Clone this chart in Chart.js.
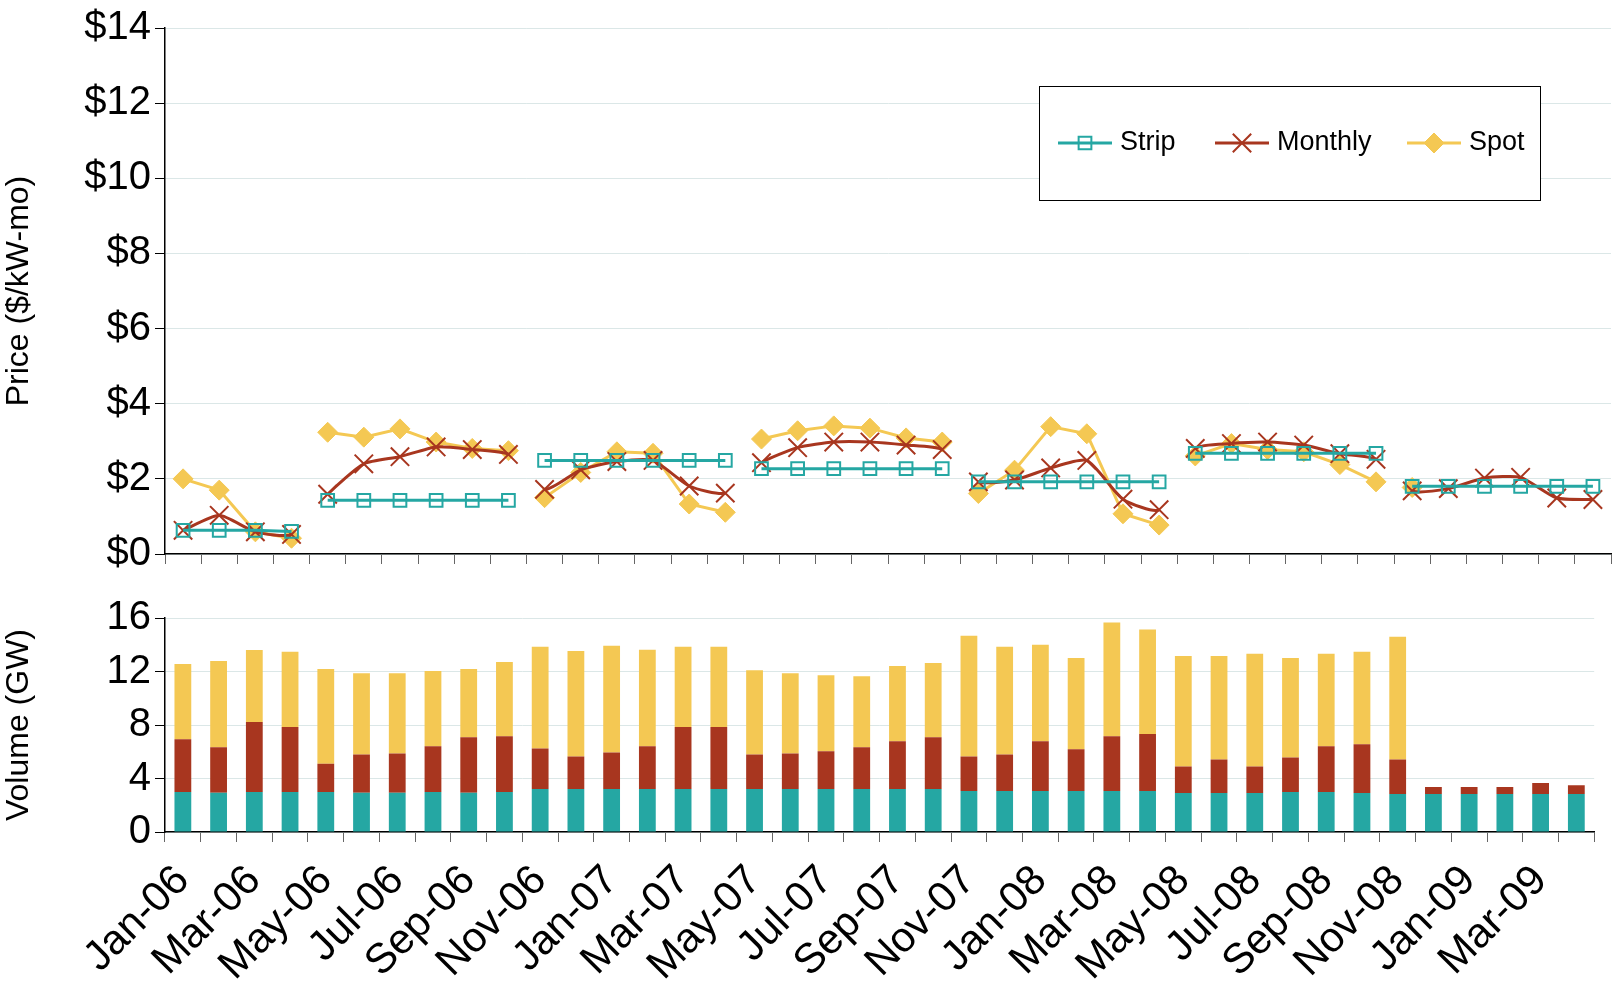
<!DOCTYPE html>
<html>
<head>
<meta charset="utf-8">
<script src="https://cdn.jsdelivr.net/npm/chart.js@4.4.1/dist/chart.umd.min.js"></script>
<style>
  body { margin: 0; background: #fff; overflow: hidden; }
  #wrap { position: relative; width: 1614px; height: 997px; overflow: hidden; }
  .box { position: absolute; left: 0; width: 1626px; }
</style>
</head>
<body>
<div id="wrap">
  <div class="box" style="top:0;height:582px"><canvas id="price"></canvas></div>
  <div class="box" style="top:590px;height:407px"><canvas id="volume"></canvas></div>
</div>
<script>
const months = [
  "Jan-06","Feb-06","Mar-06","Apr-06","May-06","Jun-06","Jul-06","Aug-06","Sep-06","Oct-06","Nov-06","Dec-06",
  "Jan-07","Feb-07","Mar-07","Apr-07","May-07","Jun-07","Jul-07","Aug-07","Sep-07","Oct-07","Nov-07","Dec-07",
  "Jan-08","Feb-08","Mar-08","Apr-08","May-08","Jun-08","Jul-08","Aug-08","Sep-08","Oct-08","Nov-08","Dec-08",
  "Jan-09","Feb-09","Mar-09","Apr-09"
];

// price lines ($/kW-mo); auction periods break the lines
const stripPrice = [0.63,0.63,0.63,0.60, 1.43,1.43,1.43,1.43,1.43,1.43, 2.49,2.49,2.49,2.49,2.49,2.49,
  2.27,2.27,2.27,2.27,2.27,2.27, 1.92,1.92,1.92,1.92,1.92,1.92, 2.68,2.68,2.68,2.68,2.68,2.68, 1.80,1.80,1.80,1.80,1.80,1.80];
const monthlyPrice = [0.63,1.03,0.59,0.52, 1.59,2.40,2.59,2.85,2.78,2.65, 1.72,2.24,2.46,2.49,1.81,1.62,
  2.43,2.83,2.98,2.98,2.90,2.78, 1.92,1.97,2.29,2.49,1.46,1.18, 2.81,2.94,2.98,2.90,2.67,2.52, 1.68,1.74,2.02,2.04,1.49,1.45];
const spotPrice = [2.00,1.70,0.59,0.42, 3.24,3.11,3.33,2.98,2.81,2.75, 1.50,2.17,2.72,2.68,1.33,1.11,
  3.06,3.28,3.41,3.35,3.09,2.98, 1.61,2.23,3.39,3.20,1.07,0.77, 2.61,2.94,2.78,2.72,2.38,1.92, 1.77,null,null,null,null,null];
const periodStarts = [4,10,16,22,28,34];

// volumes (GW)
const stripVol = [2.99,2.94,2.99,2.99,2.99,2.94,2.94,2.99,2.94,2.99, 3.22,3.22,3.22,3.22,3.22,3.22,3.22,3.22,3.22,3.22,
  3.22,3.22,3.06,3.06,3.06,3.06,3.06,3.06,2.91,2.91, 2.91,2.99,2.99,2.91,2.84,2.84,2.84,2.84,2.84,2.84];
const monthlyVol = [3.95,3.39,5.24,4.86,2.12,2.86,2.93,3.42,4.15,4.17, 3.03,2.43,2.73,3.19,4.63,4.63,2.58,2.65,2.81,3.11,
  3.56,3.87,2.59,2.74,3.72,3.12,4.10,4.26,1.98,2.51, 1.98,2.58,3.42,3.65,2.58,0.53,0.53,0.53,0.83,0.66];
const spotVol = [5.62,6.45,5.37,5.62,7.07,6.07,6.00,5.62,5.09,5.55, 7.60,7.89,7.97,7.21,6.00,6.00,6.30,6.00,5.69,5.32,
  5.63,5.54,9.03,8.05,7.22,6.83,8.51,7.82,8.27,7.74, 8.43,7.44,6.91,6.91,9.18,0,0,0,0,0];

const TEAL = "#25a7a3", RED = "#a8361f", YELLOW = "#f4c853";
const GRID = "#dbe7e7";
const FONT = "Liberation Sans, Arial, sans-serif";
Chart.defaults.font.family = FONT;
Chart.defaults.color = "#000";

const segBreak = color => ({
  borderColor: ctx => periodStarts.includes(ctx.p1DataIndex) ? "transparent" : color
});

const legendBox = {
  id: "legendBox",
  afterDraw(chart) {
    const c = chart.ctx;
    const x0 = 1039, y0 = 86, w = 501, h = 114;
    c.save();
    c.fillStyle = "#fff";
    c.fillRect(x0, y0, w, h);
    c.strokeStyle = "#000";
    c.lineWidth = 1;
    c.strokeRect(x0 + 0.5, y0 + 0.5, w, h);
    const items = [
      { ds: 0, x: 1058, label: "Strip" },
      { ds: 1, x: 1215, label: "Monthly" },
      { ds: 2, x: 1407, label: "Spot" }
    ];
    const y = y0 + h / 2;
    c.font = "27px " + FONT;
    c.textBaseline = "middle";
    items.forEach(it => {
      const ds = chart.data.datasets[it.ds];
      c.strokeStyle = ds.pointBorderColor;
      c.lineWidth = 3;
      c.beginPath(); c.moveTo(it.x, y); c.lineTo(it.x + 54, y); c.stroke();
      c.fillStyle = ds.pointBackgroundColor;
      c.lineWidth = ds.pointBorderWidth;
      Chart.helpers.drawPoint(c, { pointStyle: ds.pointStyle, radius: ds.pointRadius, borderWidth: ds.pointBorderWidth }, it.x + 27, y);
      c.fillStyle = "#000";
      c.fillText(it.label, it.x + 62, y);
    });
    c.restore();
  }
};

new Chart(document.getElementById("price"), {
  type: "line",
  data: {
    labels: months,
    datasets: [
      { label: "Strip", data: stripPrice, borderColor: TEAL, borderWidth: 3, segment: segBreak(TEAL),
        pointStyle: "rect", pointRadius: 9, pointBorderWidth: 2, pointBorderColor: TEAL, pointBackgroundColor: "rgba(255,255,255,0)" },
      { label: "Monthly", data: monthlyPrice, borderColor: RED, borderWidth: 3, tension: 0.2, segment: segBreak(RED),
        pointStyle: "crossRot", pointRadius: 13, pointBorderWidth: 2, pointBorderColor: RED, pointBackgroundColor: RED },
      { label: "Spot", data: spotPrice, borderColor: YELLOW, borderWidth: 3, segment: segBreak(YELLOW),
        pointStyle: "rectRot", pointRadius: 10, pointBorderWidth: 1, pointBorderColor: YELLOW, pointBackgroundColor: YELLOW }
    ]
  },
  options: {
    responsive: true, maintainAspectRatio: false, animation: false,
    layout: { padding: { top: 7, right: 2, left: 0, bottom: 0 } },
    plugins: { legend: { display: false }, tooltip: { enabled: false } },
    scales: {
      x: {
        offset: true,
        grid: { offset: true, drawOnChartArea: false, drawTicks: true, tickLength: 10, color: "#666" },
        border: { color: "#000", width: 1.5 },
        ticks: { display: false },
        afterFit: s => { s.height = 23; }
      },
      y: {
        min: 0, max: 14,
        grid: { color: GRID, tickLength: 10, tickColor: "#000" },
        border: { color: "#000", width: 1.5 },
        ticks: { stepSize: 2, font: { size: 40 }, padding: 4, callback: v => "$" + v },
        title: { display: true, text: "Price ($/kW-mo)", font: { size: 32 }, padding: 0 },
        afterFit: s => { s.width = 165; }
      }
    }
  },
  plugins: [legendBox]
});

new Chart(document.getElementById("volume"), {
  type: "bar",
  data: {
    labels: months,
    datasets: [
      { label: "Strip", data: stripVol, backgroundColor: TEAL },
      { label: "Monthly", data: monthlyVol, backgroundColor: RED },
      { label: "Spot", data: spotVol, backgroundColor: YELLOW }
    ]
  },
  options: {
    responsive: true, maintainAspectRatio: false, animation: false,
    layout: { padding: { top: 18, right: 2, left: 0, bottom: 0 } },
    plugins: { legend: { display: false }, tooltip: { enabled: false } },
    datasets: { bar: { barPercentage: 0.47, categoryPercentage: 1 } },
    scales: {
      x: {
        stacked: true,
        grid: { offset: true, drawOnChartArea: false, drawTicks: true, tickLength: 10, color: "#666" },
        border: { color: "#000", width: 1.5 },
        ticks: {
          autoSkip: false, maxRotation: 45, minRotation: 45, font: { size: 42 }, padding: 14,
          callback: (v, i) => i % 2 === 0 ? months[i] : ""
        },
        afterFit: s => { s.height = 165; }
      },
      y: {
        stacked: true, min: 0, max: 16,
        grid: { color: GRID, tickLength: 10, tickColor: "#000" },
        border: { color: "#000", width: 1.5 },
        ticks: { stepSize: 4, font: { size: 40 }, padding: 4 },
        title: { display: true, text: "Volume (GW)", font: { size: 32 }, padding: 0 },
        afterFit: s => { s.width = 165; }
      }
    }
  }
});
</script>
</body>
</html>
